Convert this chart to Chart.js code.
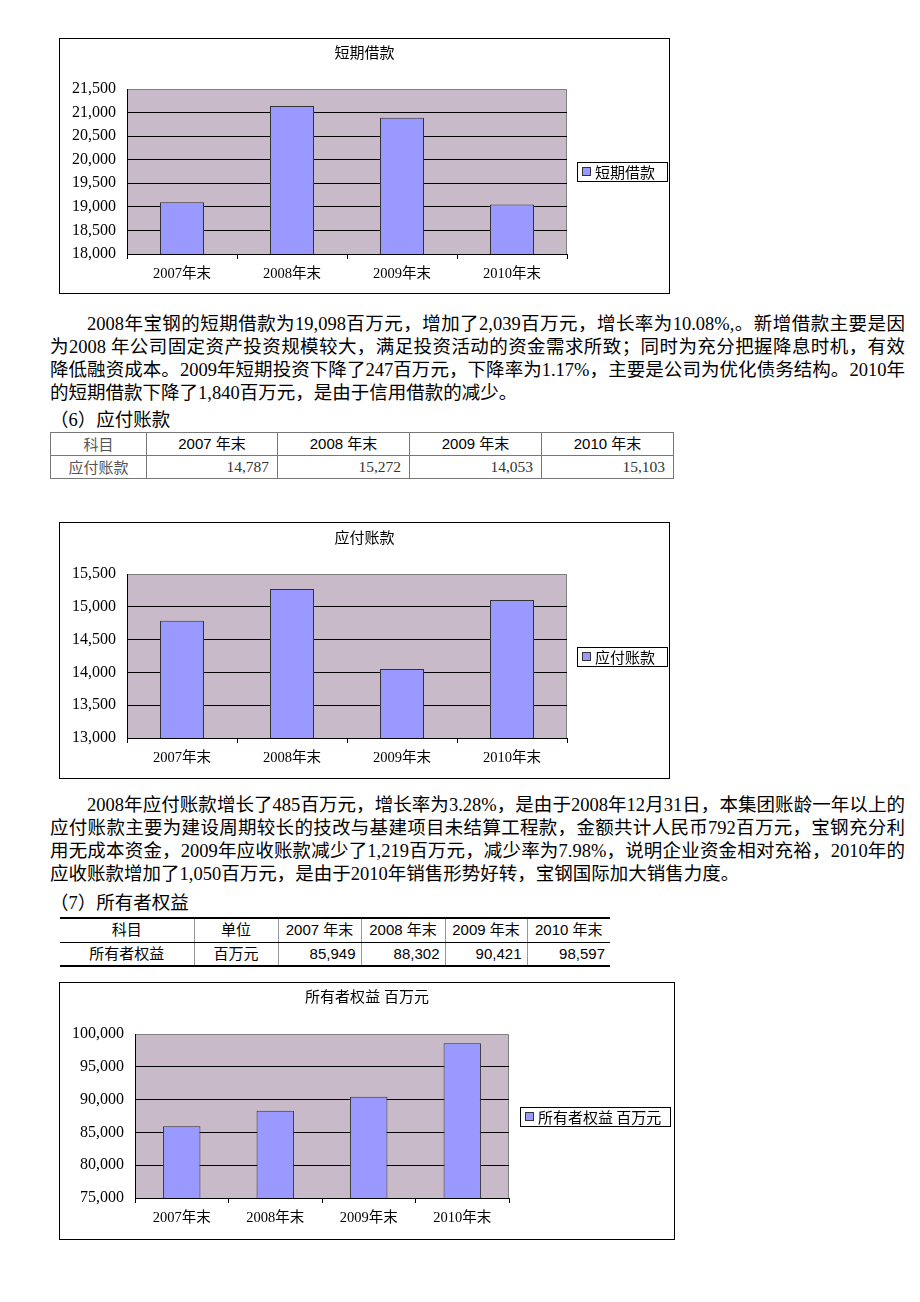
<!DOCTYPE html>
<html><head><meta charset="utf-8">
<script src="https://cdn.jsdelivr.net/npm/chart.js@4.4.1/dist/chart.umd.min.js"></script>
<style>
html,body{margin:0;padding:0;background:#fff;}
body{position:relative;width:920px;height:1302px;overflow:hidden;font-family:"Liberation Serif","Noto Sans CJK SC",serif;color:#000;}
.box{position:absolute;border:1px solid #000;box-sizing:border-box;background:#fff;}
.box canvas{position:absolute;left:0;top:0;}
.legend{position:absolute;border:1px solid #000;box-sizing:border-box;background:#fff;font:15px "Noto Sans CJK SC",sans-serif;line-height:17px;white-space:nowrap;}
.legend .sw{position:absolute;left:4px;top:4px;width:9px;height:9px;background:#9999ff;border:1px solid #333;box-sizing:border-box;}
.legend .tx{position:absolute;left:17px;top:0;}
.line{position:absolute;font-size:18.5px;line-height:23px;height:23px;white-space:nowrap;font-family:"Liberation Serif","Noto Sans CJK SC",serif;}
.just{text-align:justify;text-align-last:justify;}
table{position:absolute;border-collapse:collapse;table-layout:fixed;}
td{white-space:nowrap;overflow:hidden;}
.t1 td{border:1px solid #777;height:23px;padding:0 8px;font-size:15px;box-sizing:border-box;line-height:20px;}
.t1 .hd{text-align:center;font-family:"Liberation Sans","Noto Sans CJK SC",sans-serif;}
.t1 .gr{color:#555;text-align:center;font-family:"Noto Sans CJK SC",sans-serif;}
.t1 .num{text-align:right;color:#333;font-family:"Liberation Serif","Noto Sans CJK SC",serif;font-size:15.5px;}
.t2 td{border-left:1px solid #999;border-right:1px solid #999;height:24px;padding:0 5px;font-size:15px;line-height:20px;font-family:"Liberation Sans","Noto Sans CJK SC",sans-serif;box-sizing:border-box;}
.t2 td:first-child{border-left:none;}
.t2 td:last-child{border-right:none;}
.t2 tr.h td{border-top:2px solid #000;border-bottom:1px solid #000;text-align:center;}
.t2 tr.b td{border-bottom:2px solid #000;}
.t2 .c{text-align:center;}
.t2 .num{text-align:right;}
</style>
</head>
<body>
<div id="root"></div>
<script>
// ---------- data ----------
const categories = ['2007年末', '2008年末', '2009年末', '2010年末'];
const shortLoanName = '短期借款';
const shortLoans = [19098, 21137, 20890, 19050];
const shortLoanAxis = [18000, 21500, 500];

const payableName = '应付账款';
const payables = [14787, 15272, 14053, 15103];
const payableAxis = [13000, 15500, 500];

const equityName = '所有者权益 百万元';
const equity = [85949, 88302, 90421, 98597];
const equityAxis = [75000, 100000, 5000];

const payableTableHead = ['科目', '2007 年末', '2008 年末', '2009 年末', '2010 年末'];
const payableTableRow = ['应付账款', '14,787', '15,272', '14,053', '15,103'];
const equityTableHead = ['科目', '单位', '2007 年末', '2008 年末', '2009 年末', '2010 年末'];
const equityTableRow = ['所有者权益', '百万元', '85,949', '88,302', '90,421', '98,597'];

const para1 = [
  '2008年宝钢的短期借款为19,098百万元，增加了2,039百万元，增长率为10.08%,。新增借款主要是因',
  '为2008 年公司固定资产投资规模较大，满足投资活动的资金需求所致；同时为充分把握降息时机，有效',
  '降低融资成本。2009年短期投资下降了247百万元，下降率为1.17%，主要是公司为优化债务结构。2010年',
  '的短期借款下降了1,840百万元，是由于信用借款的减少。'
];
const heading6 = '（6）应付账款';
const para2 = [
  '2008年应付账款增长了485百万元，增长率为3.28%，是由于2008年12月31日，本集团账龄一年以上的',
  '应付账款主要为建设周期较长的技改与基建项目未结算工程款，金额共计人民币792百万元，宝钢充分利',
  '用无成本资金，2009年应收账款减少了1,219百万元，减少率为7.98%，说明企业资金相对充裕，2010年的',
  '应收账款增加了1,050百万元，是由于2010年销售形势好转，宝钢国际加大销售力度。'
];
const heading7 = '（7）所有者权益';

// ---------- page ----------
const root = document.getElementById('root');
function el(tag, cls, style, text) {
  const e = document.createElement(tag);
  if (cls) e.className = cls;
  if (style) e.style.cssText = style;
  if (text != null) e.textContent = text;
  root.appendChild(e);
  return e;
}
function paragraph(lines, firstTop) {
  lines.forEach((t, i) => {
    const left = i === 0 ? 87 : 50;
    const last = i === lines.length - 1;
    el('div', 'line' + (last ? '' : ' just'),
      `left:${left}px;top:${firstTop + i * 23}px;width:${905 - left}px;`, t);
  });
}
paragraph(para1, 313);
el('div', 'line', 'left:50px;top:409px;', heading6);
paragraph(para2, 794);
el('div', 'line', 'left:50px;top:892px;', heading7);

// table 1
(function () {
  const t = document.createElement('table');
  t.className = 't1';
  t.style.cssText = 'left:50px;top:432px;width:623px;';
  const widths = [96, 131, 132, 132, 132];
  const cg = document.createElement('colgroup');
  widths.forEach(w => { const c = document.createElement('col'); c.style.width = w + 'px'; cg.appendChild(c); });
  t.appendChild(cg);
  const r1 = t.insertRow();
  payableTableHead.forEach((h, i) => { const c = r1.insertCell(); c.textContent = h; c.className = i === 0 ? 'gr' : 'hd'; });
  const r2 = t.insertRow();
  payableTableRow.forEach((h, i) => { const c = r2.insertCell(); c.textContent = h; c.className = i === 0 ? 'gr' : 'num'; });
  root.appendChild(t);
})();

// table 2
(function () {
  const t = document.createElement('table');
  t.className = 't2';
  t.style.cssText = 'left:60px;top:917px;width:550px;';
  const widths = [134, 84, 83, 84, 82, 83];
  const cg = document.createElement('colgroup');
  widths.forEach(w => { const c = document.createElement('col'); c.style.width = w + 'px'; cg.appendChild(c); });
  t.appendChild(cg);
  const r1 = t.insertRow(); r1.className = 'h';
  equityTableHead.forEach(h => { const c = r1.insertCell(); c.textContent = h; });
  const r2 = t.insertRow(); r2.className = 'b';
  equityTableRow.forEach((h, i) => { const c = r2.insertCell(); c.textContent = h; c.className = i < 2 ? 'c' : 'num'; });
  root.appendChild(t);
})();

// ---------- charts ----------
const plotBg = {
  id: 'plotBg',
  beforeDraw(chart) {
    const { ctx, chartArea: a } = chart;
    ctx.save();
    ctx.fillStyle = '#c8bac8';
    ctx.fillRect(a.left, a.top, a.right - a.left, a.bottom - a.top);
    ctx.strokeStyle = '#808080';
    ctx.lineWidth = 1;
    ctx.beginPath();
    ctx.moveTo(a.left, a.top + 0.5);
    ctx.lineTo(a.right - 0.5, a.top + 0.5);
    ctx.lineTo(a.right - 0.5, a.bottom);
    ctx.stroke();
    ctx.restore();
  }
};

const FONT = '"Liberation Serif", "Noto Sans CJK SC", serif';

function makeChart(g, name, values, axis) {
  const box = el('div', 'box', `left:${g.x}px;top:${g.y}px;width:${g.w}px;height:${g.h}px;`);
  const cw = g.w - 2, ch = g.h - 2;
  const cv = document.createElement('canvas');
  cv.width = cw; cv.height = ch;
  cv.style.width = cw + 'px'; cv.style.height = ch + 'px';
  box.appendChild(cv);

  const lg = el('div', 'legend', `left:${g.lx}px;top:${g.ly}px;width:${g.lw}px;height:${g.lh}px;`);
  const sw = document.createElement('span'); sw.className = 'sw'; lg.appendChild(sw);
  const tx = document.createElement('span'); tx.className = 'tx'; tx.textContent = name; lg.appendChild(tx);

  new Chart(cv, {
    type: 'bar',
    data: {
      labels: categories,
      datasets: [{
        label: name,
        data: values,
        backgroundColor: '#9999ff',
        borderColor: '#333333',
        borderWidth: 1,
        barPercentage: 0.4,
        categoryPercentage: 1.0
      }]
    },
    options: {
      responsive: false,
      animation: false,
      devicePixelRatio: 1,
      layout: { padding: 0 },
      plugins: {
        legend: { display: false },
        tooltip: { enabled: false },
        title: {
          display: true,
          text: name,
          color: '#000',
          font: { family: FONT, size: 15, weight: 'normal' },
          padding: { top: g.tt, bottom: g.pt - g.tt - 18 }
        }
      },
      scales: {
        x: {
          grid: { display: true, drawOnChartArea: false, drawTicks: true, tickLength: 5, color: '#000', offset: true },
          border: { display: true, color: '#000', width: 1 },
          ticks: { color: '#000', font: { family: FONT, size: 14.5 }, padding: 6, maxRotation: 0, autoSkip: false },
          afterFit(s) { s.height = ch - g.pb; }
        },
        y: {
          min: axis[0], max: axis[1],
          grid: {
            drawTicks: false,
            color: c => (c.tick && c.tick.value === axis[1]) ? 'rgba(0,0,0,0)' : '#000',
            lineWidth: 1
          },
          border: { display: true, color: '#000', width: 1 },
          ticks: { stepSize: axis[2], color: '#000', font: { family: FONT, size: 16 }, padding: g.pl - g.lr },
          afterFit(s) { s.width = g.pl; }
        },
        side: {
          type: 'linear', position: 'right', display: true, min: 0, max: 1,
          grid: { display: false, drawTicks: false },
          border: { display: false },
          ticks: { display: false },
          afterFit(s) { s.width = cw - g.pr; }
        }
      }
    },
    plugins: [plotBg]
  });
}

makeChart({ x: 59, y: 38, w: 611, h: 256, pl: 67, pr: 507, pt: 50, pb: 215, tt: 6, lr: 56,
  lx: 577, ly: 162, lw: 91, lh: 20 }, shortLoanName, shortLoans, shortLoanAxis);
makeChart({ x: 59, y: 522, w: 611, h: 257, pl: 67, pr: 507, pt: 51, pb: 215, tt: 7, lr: 56,
  lx: 577, ly: 647, lw: 91, lh: 20 }, payableName, payables, payableAxis);
makeChart({ x: 59, y: 982, w: 616, h: 258, pl: 75, pr: 449, pt: 51, pb: 215, tt: 6, lr: 64,
  lx: 520, ly: 1107, lw: 151, lh: 20 }, equityName, equity, equityAxis);
</script>
</body></html>
